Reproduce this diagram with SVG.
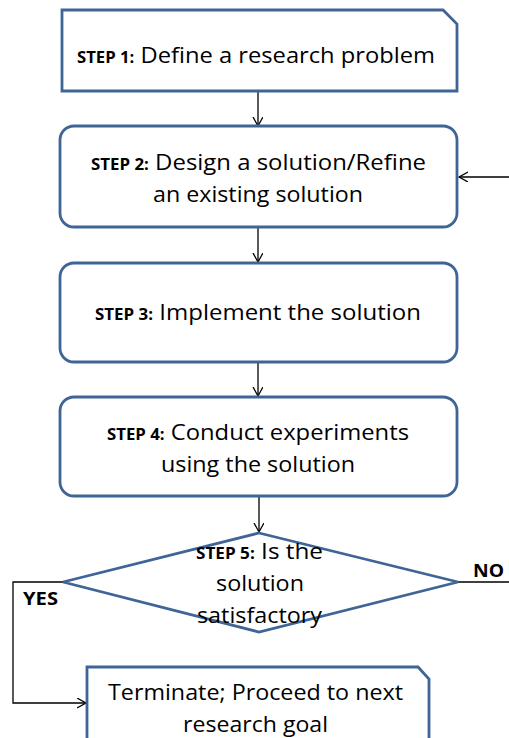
<svg xmlns="http://www.w3.org/2000/svg" width="509" height="738" viewBox="0 0 509 738">
  <defs>
    <style>
      .node { fill: #ffffff; stroke: #3f6496; stroke-width: 2.8; }
      .txt { font-family: "Open Sans", "Liberation Sans", sans-serif; font-size: 22px; fill: #000; text-anchor: middle; }
      .tag { font-weight: bold; font-size: 15.5px; }
      .lbl { font-family: "Open Sans", "Liberation Sans", sans-serif; font-size: 17px; font-weight: bold; fill: #000; }
      .conn { fill: none; stroke: #000; stroke-width: 1.3; }
    </style>
    <marker id="arrow" markerWidth="12" markerHeight="12" refX="9" refY="5" orient="auto" markerUnits="userSpaceOnUse">
      <path d="M0,0 L9,5 L0,10" fill="none" stroke="#000" stroke-width="1.3"/>
    </marker>
  </defs>

  <rect width="509" height="738" fill="#ffffff"/>

  <g id="connectors">
    <path class="conn" d="M258,91 V126" marker-end="url(#arrow)"/>
    <path class="conn" d="M258,227 V262" marker-end="url(#arrow)"/>
    <path class="conn" d="M258,362 V396" marker-end="url(#arrow)"/>
    <path class="conn" d="M259,496 V532" marker-end="url(#arrow)"/>
    <path class="conn" d="M458,582 H515 V177 H459" marker-end="url(#arrow)"/>
    <path class="conn" d="M63,582 H13 V703 H86" marker-end="url(#arrow)"/>
  </g>

  <g id="step1">
    <path class="node" d="M62,10 H443 L457,24 V91 H62 Z"/>
    <text class="txt" x="256" y="63" textLength="358" lengthAdjust="spacingAndGlyphs"><tspan class="tag">STEP 1:</tspan> Define a research problem</text>
  </g>

  <g id="step2">
    <rect class="node" x="60" y="126" width="397" height="101" rx="14"/>
    <text class="txt" x="258.5" y="170" textLength="335" lengthAdjust="spacingAndGlyphs"><tspan class="tag">STEP 2:</tspan> Design a solution/Refine</text>
    <text class="txt" x="258" y="202" textLength="210" lengthAdjust="spacingAndGlyphs">an existing solution</text>
  </g>

  <g id="step3">
    <rect class="node" x="60" y="263" width="397" height="99" rx="14"/>
    <text class="txt" x="258" y="320" textLength="326" lengthAdjust="spacingAndGlyphs"><tspan class="tag">STEP 3:</tspan> Implement the solution</text>
  </g>

  <g id="step4">
    <rect class="node" x="60" y="397" width="397" height="99" rx="14"/>
    <text class="txt" x="258" y="440" textLength="302" lengthAdjust="spacingAndGlyphs"><tspan class="tag">STEP 4:</tspan> Conduct experiments</text>
    <text class="txt" x="258" y="472" textLength="194" lengthAdjust="spacingAndGlyphs">using the solution</text>
  </g>

  <g id="step5">
    <path class="node" d="M259,533 L458,582 L259,632 L63,582 Z"/>
    <text class="txt" x="259.5" y="559" textLength="127" lengthAdjust="spacingAndGlyphs"><tspan class="tag">STEP 5:</tspan> Is the</text>
    <text class="txt" x="260" y="591" textLength="88" lengthAdjust="spacingAndGlyphs">solution</text>
    <text class="txt" x="259.5" y="623" textLength="125" lengthAdjust="spacingAndGlyphs">satisfactory</text>
  </g>

  <g id="labels">
    <text class="lbl" x="473" y="577" textLength="31" lengthAdjust="spacingAndGlyphs">NO</text>
    <text class="lbl" x="23" y="605" textLength="35" lengthAdjust="spacingAndGlyphs">YES</text>
  </g>

  <g id="terminate">
    <path class="node" d="M87,745 V667 H418 L429,679 V745"/>
    <text class="txt" x="255.5" y="700" textLength="295" lengthAdjust="spacingAndGlyphs">Terminate; Proceed to next</text>
    <text class="txt" x="255.5" y="732" textLength="145" lengthAdjust="spacingAndGlyphs">research goal</text>
  </g>
</svg>
